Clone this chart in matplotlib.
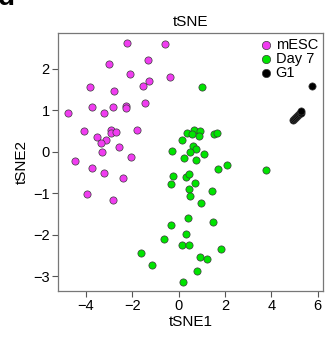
import matplotlib
matplotlib.use("Agg")
import matplotlib.pyplot as plt

plt.rcParams["font.family"] = ["Liberation Sans", "DejaVu Sans"]

# tSNE coordinates
mesc_x = [-2.22, -0.58, -1.31, -2.98, -2.07, -0.36, -1.28, -1.54, -3.82, -2.78,
          -4.76, -3.72, -3.22, -2.81, -2.25, -2.25, -1.45, -4.07, -3.52, -2.93,
          -2.93, -2.69, -1.80, -3.13, -3.34, -2.55, -3.29, -2.06, -4.44, -3.72,
          -3.19, -2.37, -3.93, -2.83]
mesc_y = [2.63, 2.60, 2.20, 2.11, 1.87, 1.79, 1.70, 1.58, 1.56, 1.47,
          0.93, 1.08, 0.92, 1.08, 1.10, 1.06, 1.17, 0.49, 0.36, 0.52,
          0.46, 0.47, 0.53, 0.28, 0.20, 0.11, 0.00, -0.12, -0.22, -0.39,
          -0.51, -0.64, -1.02, -1.17]

day7_x = [1.02, 0.67, 0.36, 0.59, 0.94, 0.90, 1.53, 1.68, 0.13, 0.64,
          0.74, -0.26, 0.51, 1.09, 0.25, 0.74, 2.11, 1.72, 3.79, -0.23,
          0.34, 0.46, -0.31, 0.73, 0.46, 1.46, 0.50, 0.99, 0.40, 1.48,
          -0.31, 0.34, -0.63, 0.14, 0.47, 1.85, -1.61, 0.93, 1.23, -1.15,
          0.81, 0.19]
day7_y = [1.56, 0.53, 0.45, 0.42, 0.50, 0.38, 0.43, 0.44, 0.27, 0.13,
          0.07, 0.02, 0.00, -0.05, -0.15, -0.20, -0.31, -0.42, -0.45, -0.58,
          -0.61, -0.54, -0.79, -0.75, -0.89, -0.95, -1.08, -1.24, -1.60, -1.70,
          -1.77, -1.98, -2.11, -2.25, -2.25, -2.34, -2.44, -2.55, -2.59, -2.74,
          -2.87, -3.14]

g1_x = [4.94, 4.98, 5.02, 5.06, 5.10, 5.14, 5.18, 5.22, 5.26, 5.30, 5.77]
g1_y = [0.76, 0.79, 0.81, 0.84, 0.86, 0.88, 0.90, 0.92, 0.94, 0.97, 1.58]

groups = [("mESC", mesc_x, mesc_y, "#F03CF0"),
          ("Day 7", day7_x, day7_y, "#00E400"),
          ("G1", g1_x, g1_y, "#000000")]

fig = plt.figure(figsize=(3.28, 3.37), dpi=100)
ax = fig.add_axes([0.177, 0.1365, 0.808, 0.7655])

for name, xs, ys, col in groups:
    ax.scatter(xs, ys, s=27, c=col, edgecolors="#3a3a3a", linewidths=0.5,
               label=name, zorder=3)

ax.set_xlim(-5.19, 6.23)
ax.set_ylim(-3.36, 2.86)
ax.set_xticks([-4, -2, 0, 2, 4, 6])
ax.set_yticks([-3, -2, -1, 0, 1, 2])
ax.set_xticklabels(["\u22124", "\u22122", "0", "2", "4", "6"])
ax.set_yticklabels(["\u22123", "\u22122", "\u22121", "0", "1", "2"])
ax.tick_params(labelsize=10.5, length=4, width=0.8, color="#555555", pad=2)
for sp in ax.spines.values():
    sp.set_color("#777777")
    sp.set_linewidth(0.9)

ax.set_xlabel("tSNE1", fontsize=11, labelpad=1)
ax.set_ylabel("tSNE2", fontsize=11, labelpad=3)
ax.set_title("tSNE", fontsize=11, pad=5)

ax.legend(loc="upper right", frameon=False, fontsize=10.5, handletextpad=0.05,
          borderaxespad=0.2, labelspacing=0.0, handlelength=1.2,
          borderpad=0.15, markerscale=1.15)

# panel letter, clipped at the top edge as in the source figure
fig.text(-0.005, 1.045, "d", fontsize=20, fontweight="bold", va="top", ha="left")

fig.savefig("out.png", dpi=100)
